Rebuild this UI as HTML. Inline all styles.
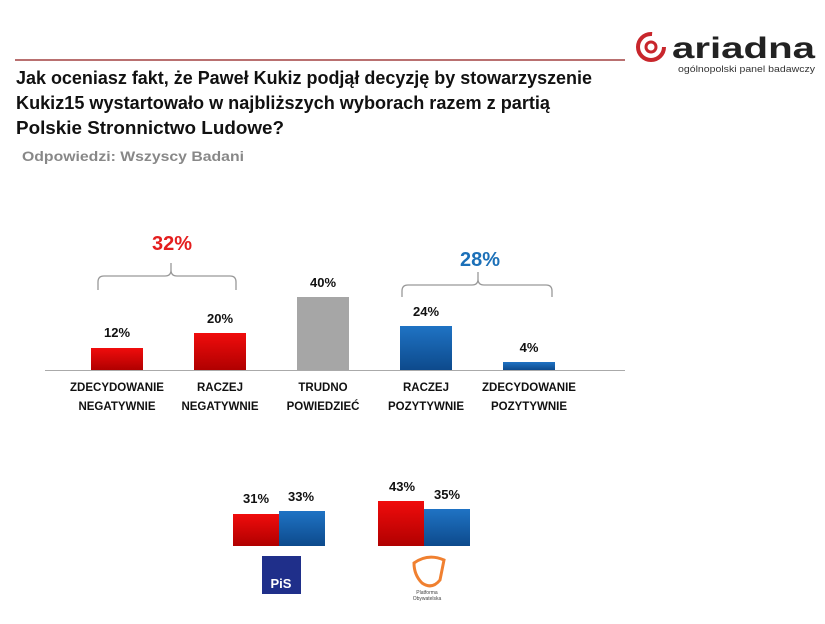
<!DOCTYPE html>
<html><head><meta charset="utf-8"><style>
body{margin:0;width:825px;height:619px;background:#fff;overflow:hidden;font-family:"Liberation Sans",sans-serif}
</style></head><body>
<svg width="825" height="619" viewBox="0 0 825 619" xmlns="http://www.w3.org/2000/svg" font-family="Liberation Sans, sans-serif">
<defs>
<linearGradient id="r" x1="0" y1="0" x2="0" y2="1"><stop offset="0" stop-color="#f00c0c"/><stop offset="1" stop-color="#b00000"/></linearGradient>
<linearGradient id="b" x1="0" y1="0" x2="0" y2="1"><stop offset="0" stop-color="#1f73c4"/><stop offset="1" stop-color="#0d4a8c"/></linearGradient>
</defs>
<line x1="15" y1="60" x2="625" y2="60" stroke="#b97070" stroke-width="2"/>
<!-- logo -->
<circle cx="651" cy="47" r="13" fill="none" stroke="#c8262c" stroke-width="4" stroke-dasharray="62 20"/>
<circle cx="651" cy="47" r="5" fill="none" stroke="#c8262c" stroke-width="3"/>
<text x="672" y="58" font-size="30" font-weight="bold" fill="#222" textLength="143" lengthAdjust="spacingAndGlyphs">ariadna</text>
<text x="678" y="72" font-size="9" fill="#333" textLength="137" lengthAdjust="spacingAndGlyphs">ogólnopolski panel badawczy</text>
<g font-size="18" font-weight="bold" fill="#111">
<text x="16" y="84" textLength="576" lengthAdjust="spacingAndGlyphs">Jak oceniasz fakt, że Paweł Kukiz podjął decyzję by stowarzyszenie</text>
<text x="16" y="109" textLength="534" lengthAdjust="spacingAndGlyphs">Kukiz15 wystartowało w najbliższych wyborach razem z partią</text>
<text x="16" y="134" textLength="268" lengthAdjust="spacingAndGlyphs">Polskie Stronnictwo Ludowe?</text>
</g>
<text x="22" y="161" font-size="14" font-weight="bold" fill="#888" textLength="222" lengthAdjust="spacingAndGlyphs">Odpowiedzi:  Wszyscy Badani</text>
<!-- brackets -->
<path d="M98 290 V282 Q98 276 104 276 H165 Q171 276 171 270 V263 V270 Q171 276 177 276 H230 Q236 276 236 282 V290" fill="none" stroke="#999" stroke-width="1.3"/>
<path d="M402 297 V291 Q402 285 408 285 H472 Q478 285 478 279 V272 V279 Q478 285 484 285 H546 Q552 285 552 291 V297" fill="none" stroke="#999" stroke-width="1.3"/>
<text x="172" y="250" font-size="20" font-weight="bold" fill="#e41e1e" text-anchor="middle">32%</text>
<text x="480" y="266" font-size="20" font-weight="bold" fill="#1c70b8" text-anchor="middle">28%</text>
<!-- bars -->
<rect x="91" y="348" width="52" height="22" fill="url(#r)"/>
<rect x="194" y="333" width="52" height="37" fill="url(#r)"/>
<rect x="297" y="297" width="52" height="73" fill="#a6a6a6"/>
<rect x="400" y="326" width="52" height="44" fill="url(#b)"/>
<rect x="503" y="362" width="52" height="8" fill="url(#b)"/>
<line x1="45" y1="370.5" x2="625" y2="370.5" stroke="#aaa" stroke-width="1"/>
<g font-size="13" font-weight="bold" fill="#111" text-anchor="middle">
<text x="117" y="337">12%</text><text x="220" y="323">20%</text><text x="323" y="287">40%</text><text x="426" y="316">24%</text><text x="529" y="352">4%</text>
</g>
<g font-size="11.5" font-weight="bold" fill="#111" text-anchor="middle">
<text x="117" y="391">ZDECYDOWANIE</text><text x="117" y="410">NEGATYWNIE</text>
<text x="220" y="391">RACZEJ</text><text x="220" y="410">NEGATYWNIE</text>
<text x="323" y="391">TRUDNO</text><text x="323" y="410">POWIEDZIEĆ</text>
<text x="426" y="391">RACZEJ</text><text x="426" y="410">POZYTYWNIE</text>
<text x="529" y="391">ZDECYDOWANIE</text><text x="529" y="410">POZYTYWNIE</text>
</g>
<!-- bottom -->
<rect x="233" y="514" width="46" height="32" fill="url(#r)"/>
<rect x="279" y="511" width="46" height="35" fill="url(#b)"/>
<rect x="378" y="501" width="46" height="45" fill="url(#r)"/>
<rect x="424" y="509" width="46" height="37" fill="url(#b)"/>
<g font-size="13" font-weight="bold" fill="#111" text-anchor="middle">
<text x="256" y="503">31%</text><text x="301" y="501">33%</text><text x="402" y="491">43%</text><text x="447" y="499">35%</text>
</g>
<rect x="262" y="556" width="39" height="38" fill="#1f2f8a"/>
<text x="281" y="588" font-size="13" font-weight="bold" fill="#fff" text-anchor="middle">PiS</text>
<path d="M414 563 Q428 553 444 560 L440 580 Q432 590 422 583 Q414 575 414 563Z" fill="none" stroke="#f08030" stroke-width="3"/>
<text x="427" y="594" font-size="5" fill="#444" text-anchor="middle">Platforma</text>
<text x="427" y="600" font-size="5" fill="#444" text-anchor="middle">Obywatelska</text>
</svg>
</body></html>
